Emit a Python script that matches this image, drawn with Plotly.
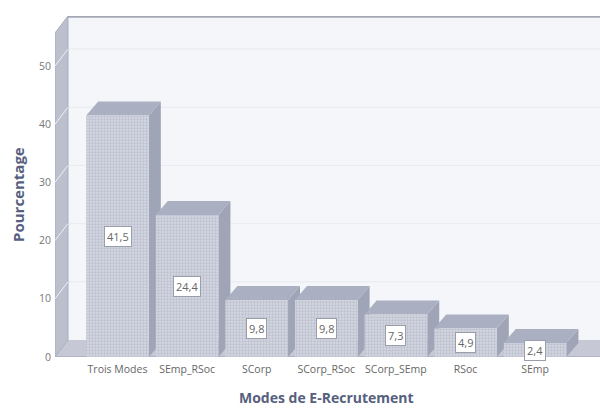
import plotly.graph_objects as go

categories = ["Trois Modes", "SEmp_RSoc", "SCorp", "SCorp_RSoc", "SCorp_SEmp", "RSoc", "SEmp"]
values = [41.5, 24.4, 9.8, 9.8, 7.3, 4.9, 2.4]
value_labels = ["41,5", "24,4", "9,8", "9,8", "7,3", "4,9", "2,4"]
y_ticks = [0, 10, 20, 30, 40, 50]

W, H = 600, 408
ML, MR, MT, MB = 55, 0, 16, 51
PX_X = 69.6      # pixels per category
PX_Y = 5.82      # pixels per percent
FIRST_CENTER = 117.5

x_lo = (ML - FIRST_CENTER) / PX_X
x_hi = (W - MR - FIRST_CENTER) / PX_X
y_hi = (H - MB - MT) / PX_Y
y_front_top = (H - MB - 33) / PX_Y

# depth offsets in data units
wdx, wdy = 13 / PX_X, 17 / PX_Y
bdx, bdy = 12 / PX_X, 14 / PX_Y
half = 0.45

def poly(pts):
    return "M " + " L ".join(f"{x},{y}" for x, y in pts) + " Z"

shapes = []
# back wall
shapes.append(dict(type="path", path=poly([(x_lo + wdx, wdy), (x_hi + 1, wdy), (x_hi + 1, y_hi), (x_lo + wdx, y_hi)]),
                   fillcolor="#f5f6f9", line=dict(width=0), layer="below"))
# grid lines on back wall and left wall
for v in y_ticks[1:]:
    shapes.append(dict(type="line", x0=x_lo + wdx, x1=x_hi + 1, y0=v + wdy, y1=v + wdy,
                       line=dict(color="#e8eaf0", width=1), layer="below"))
# floor
shapes.append(dict(type="path", path=poly([(x_lo, 0), (x_hi + 1, 0), (x_hi + 1 + wdx, wdy), (x_lo + wdx, wdy)]),
                   fillcolor="#c6c9d5", line=dict(width=0), layer="below"))
# left wall
shapes.append(dict(type="path", path=poly([(x_lo, 0), (x_lo, y_front_top), (x_lo + wdx, y_front_top + wdy), (x_lo + wdx, wdy)]),
                   fillcolor="#bcc0cd", line=dict(color="#a9adbb", width=1), layer="below"))
for v in y_ticks[1:]:
    shapes.append(dict(type="line", x0=x_lo, x1=x_lo + wdx, y0=v, y1=v + wdy,
                       line=dict(color="#eef0f5", width=1), layer="below"))
# top edge of back wall
shapes.append(dict(type="line", x0=x_lo + wdx, x1=x_hi + 1, y0=y_hi - 0.15, y1=y_hi - 0.15,
                   line=dict(color="#a4a8b5", width=2), layer="below"))
# floor front edge
shapes.append(dict(type="line", x0=x_lo, x1=x_hi + 1, y0=0, y1=0,
                   line=dict(color="#a9adbb", width=1.5), layer="below"))

# bar top and side faces
for i, v in enumerate(values):
    l, r = i - half, i + half
    shapes.append(dict(type="path", path=poly([(r, 0), (r, v), (r + bdx, v + bdy), (r + bdx, bdy)]),
                       fillcolor="#9fa4b7", line=dict(width=0), layer="below"))
    shapes.append(dict(type="path", path=poly([(l, v), (r, v), (r + bdx, v + bdy), (l + bdx, v + bdy)]),
                       fillcolor="#aaafc1", line=dict(width=0), layer="below"))

fig = go.Figure()
fig.add_trace(go.Bar(
    x=list(range(len(categories))), y=values, width=2 * half,
    marker=dict(color="#d2d5df", line=dict(width=0),
                pattern=dict(shape=".", fgcolor="#a3a8ba", bgcolor="#d4d7e1", size=3, solidity=0.45)),
    hoverinfo="skip", showlegend=False,
))

annotations = []
for i, (v, t) in enumerate(zip(values, value_labels)):
    annotations.append(dict(x=i, y=v / 2, xref="x", yref="y", text=t, showarrow=False,
                            bgcolor="#ffffff", bordercolor="#9a9ea8", borderwidth=1, borderpad=2,
                            font=dict(family="Open Sans", size=11, color="#666666")))

# axis titles placed by pixel position within the plot area
pw, ph = W - ML - MR, H - MB - MT
annotations.append(dict(x=(18 - ML) / pw, y=(H - MB - 195) / ph, xref="paper", yref="paper",
                        text="<b>Pourcentage</b>", showarrow=False, textangle=-90,
                        xanchor="center", yanchor="middle",
                        font=dict(family="Open Sans", size=15, color="#56607e")))
annotations.append(dict(x=(326 - ML) / pw, y=(H - MB - 398) / ph, xref="paper", yref="paper",
                        text="<b>Modes de E-Recrutement</b>", showarrow=False,
                        xanchor="center", yanchor="middle",
                        font=dict(family="Open Sans", size=14, color="#56607e")))

fig.update_layout(
    width=W, height=H,
    margin=dict(l=ML, r=MR, t=MT, b=MB, pad=0),
    paper_bgcolor="#ffffff", plot_bgcolor="#ffffff",
    shapes=shapes, annotations=annotations,
    xaxis=dict(range=[x_lo, x_hi], tickvals=list(range(len(categories))), ticktext=categories,
               showgrid=False, zeroline=False, showline=False, ticks="", ticklabelstandoff=4,
               tickfont=dict(family="Open Sans", size=10.5, color="#666666")),
    yaxis=dict(range=[0, y_hi], tickvals=y_ticks, showgrid=False, zeroline=False, showline=False,
               ticks="", ticklabelstandoff=3,
               tickfont=dict(family="Open Sans", size=10.5, color="#777777")),
    bargap=0.1,
)

fig.write_html("out.html")
